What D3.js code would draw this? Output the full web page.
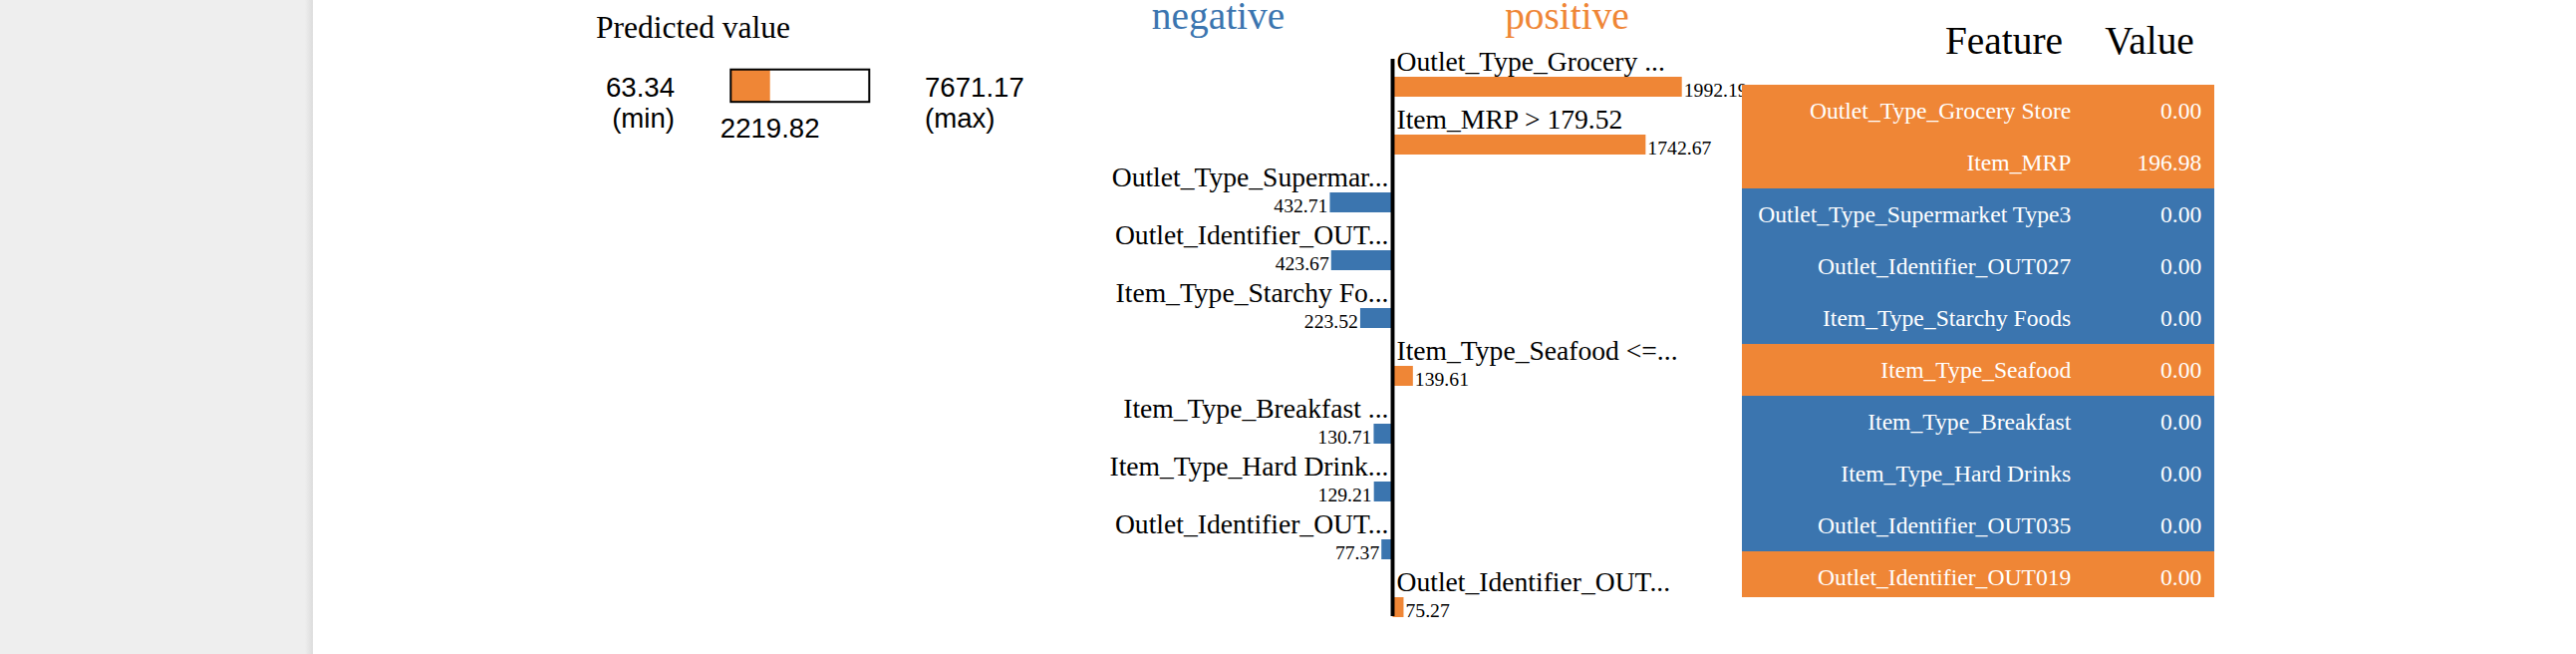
<!DOCTYPE html>
<html><head><meta charset="utf-8">
<script src="https://cdn.jsdelivr.net/npm/d3@7"></script>
<style>html,body{margin:0;padding:0;background:#fff;overflow:hidden}</style>
</head><body><svg id="c" width="2585" height="656"></svg>
<script>
// ---- data ----
const predMin = 63.34;
const predMax = 7671.17;
const predValue = 2219.82;
const barLabels = [
  "Outlet_Type_Grocery ...",
  "Item_MRP > 179.52",
  "Outlet_Type_Supermar...",
  "Outlet_Identifier_OUT...",
  "Item_Type_Starchy Fo...",
  "Item_Type_Seafood <=...",
  "Item_Type_Breakfast ...",
  "Item_Type_Hard Drink...",
  "Outlet_Identifier_OUT...",
  "Outlet_Identifier_OUT..."
];
const barWeights = [1992.19, 1742.67, -432.71, -423.67, -223.52, 139.61, -130.71, -129.21, -77.37, 75.27];
const tableFeatures = [
  "Outlet_Type_Grocery Store",
  "Item_MRP",
  "Outlet_Type_Supermarket Type3",
  "Outlet_Identifier_OUT027",
  "Item_Type_Starchy Foods",
  "Item_Type_Seafood",
  "Item_Type_Breakfast",
  "Item_Type_Hard Drinks",
  "Outlet_Identifier_OUT035",
  "Outlet_Identifier_OUT019"
];
const tableValues = ["0.00", "196.98", "0.00", "0.00", "0.00", "0.00", "0.00", "0.00", "0.00", "0.00"];
const sideTitles = ["negative", "positive"];
const tableHeaders = ["Feature", "Value"];

// ---- styles ----
const ORANGE = "rgb(239,134,54)";
const BLUE = "rgb(59,117,175)";
const SERIF = "'Liberation Serif','Times New Roman',serif";
const SANS = "Tahoma,'Liberation Sans',Arial,sans-serif";

const svg = d3.select("#c");

// left grey panel with a soft edge shadow
const defs = svg.append("defs");
const grad = defs.append("linearGradient").attr("id", "edge").attr("x1", "0").attr("x2", "1");
grad.append("stop").attr("offset", "0").attr("stop-color", "#eeeeee");
grad.append("stop").attr("offset", "1").attr("stop-color", "#dcdcdc");
svg.append("rect").attr("x", 0).attr("y", 0).attr("width", 314).attr("height", 656).attr("fill", "#eeeeee");
svg.append("rect").attr("x", 306).attr("y", 0).attr("width", 8).attr("height", 656).attr("fill", "url(#edge)");

// ---- Predicted value ----
const pv = svg.append("g");
pv.append("text").attr("x", 598).attr("y", 38).attr("font-family", SERIF).attr("font-size", 31.5).text("Predicted value");
const pScale = d3.scaleLinear().domain([predMin, predMax]).range([733.3, 872.3]);
pv.append("rect").attr("x", pScale(predMin)).attr("y", 69.7)
  .attr("width", pScale(predValue) - pScale(predMin)).attr("height", 32.5).attr("fill", ORANGE);
pv.append("rect").attr("x", pScale(predMin)).attr("y", 69.7)
  .attr("width", pScale(predMax) - pScale(predMin)).attr("height", 32.5)
  .attr("fill", "none").attr("stroke", "black").attr("stroke-width", 2);
const minT = pv.append("text").attr("font-family", SANS).attr("font-size", 27.6).attr("text-anchor", "end");
minT.append("tspan").attr("x", 677).attr("y", 97).text(predMin.toFixed(2));
minT.append("tspan").attr("x", 677).attr("y", 128).text("(min)");
const maxT = pv.append("text").attr("font-family", SANS).attr("font-size", 27.6).attr("text-anchor", "start");
maxT.append("tspan").attr("x", 928).attr("y", 97).text(predMax.toFixed(2));
maxT.append("tspan").attr("x", 928).attr("y", 128).text("(max)");
pv.append("text").attr("x", pScale(predValue)).attr("y", 138).attr("text-anchor", "middle")
  .attr("font-family", SANS).attr("font-size", 27.6).text(predValue.toFixed(2));

// ---- bar chart ----
const x0 = 1397.5;
const n = barWeights.length;
const xs = d3.scaleLinear().domain([0, d3.max(barWeights, d => Math.abs(d))]).range([0, 290.2]);
const ys = d3.scaleLinear().domain([0, n]).range([77, 77 + 58 * n]);
const barH = 20;

const bc = svg.append("g");
bc.selectAll("text.title").data(sideTitles).join("text").attr("class", "title")
  .attr("x", (d, i) => i === 0 ? x0 - 175 : x0 + 175).attr("y", 28.5)
  .attr("text-anchor", "middle").attr("font-family", SERIF).attr("font-size", 39.4)
  .attr("fill", (d, i) => i === 0 ? BLUE : ORANGE).text(d => d);

const rows = bc.selectAll("g.row").data(barWeights.map((w, i) => ({w, i, label: barLabels[i]})))
  .join("g").attr("class", "row");
rows.append("text")
  .attr("x", d => d.w > 0 ? x0 + 4 : x0 - 4)
  .attr("y", d => ys(d.i) - 6)
  .attr("text-anchor", d => d.w > 0 ? "start" : "end")
  .attr("font-family", SERIF).attr("font-size", 27.6).text(d => d.label);
rows.append("rect")
  .attr("x", d => d.w > 0 ? x0 : x0 - xs(Math.abs(d.w)))
  .attr("y", d => ys(d.i)).attr("height", barH)
  .attr("width", d => xs(Math.abs(d.w)))
  .attr("fill", d => d.w > 0 ? ORANGE : BLUE);
rows.append("text")
  .attr("x", d => d.w > 0 ? x0 + xs(d.w) + 2 : x0 - xs(-d.w) - 2)
  .attr("y", d => ys(d.i) + 19.5)
  .attr("text-anchor", d => d.w > 0 ? "start" : "end")
  .attr("font-family", SERIF).attr("font-size", 19.7).text(d => Math.abs(d.w).toFixed(2));

bc.append("line").attr("x1", x0).attr("x2", x0).attr("y1", 59).attr("y2", 618)
  .attr("stroke", "black").attr("stroke-width", 3.9);

// ---- table ----
const tb = svg.append("g");
const tLeft = 1748, tRight = 2222, tBottom = 599;
const ty = d3.scaleLinear().domain([0, n]).range([85, 85 + 52 * n]);
tb.append("text").attr("x", 2011).attr("y", 54.3).attr("text-anchor", "middle")
  .attr("font-family", SERIF).attr("font-size", 39.4).text(tableHeaders[0]);
tb.append("text").attr("x", 2157).attr("y", 54.3).attr("text-anchor", "middle")
  .attr("font-family", SERIF).attr("font-size", 39.4).text(tableHeaders[1]);
const trs = tb.selectAll("g.tr").data(tableFeatures.map((f, i) => ({f, v: tableValues[i], w: barWeights[i], i})))
  .join("g").attr("class", "tr");
trs.append("rect").attr("x", tLeft).attr("width", tRight - tLeft)
  .attr("y", d => ty(d.i)).attr("height", d => Math.min(ty(d.i + 1), tBottom) - ty(d.i))
  .attr("fill", d => d.w > 0 ? ORANGE : BLUE);
trs.append("text").attr("x", 2078.3).attr("y", d => ty(d.i) + 34).attr("text-anchor", "end")
  .attr("font-family", SERIF).attr("font-size", 23.6).attr("fill", "white").text(d => d.f);
trs.append("text").attr("x", 2209.3).attr("y", d => ty(d.i) + 34).attr("text-anchor", "end")
  .attr("font-family", SERIF).attr("font-size", 23.6).attr("fill", "white").text(d => d.v);
</script></body></html>
